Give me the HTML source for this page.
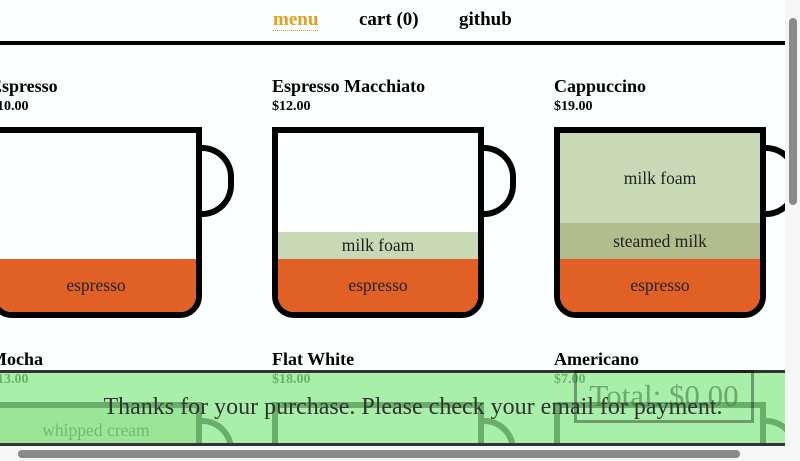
<!DOCTYPE html>
<html><head><meta charset="utf-8">
<style>
*{margin:0;padding:0;box-sizing:border-box}
html,body{width:800px;height:461px;overflow:hidden}
body{background:#fbfffe;font-family:"Liberation Serif",serif}
#wrap{position:relative;width:800px;height:461px;overflow:hidden}
.a{position:absolute}
.nav{font-weight:bold;font-size:19px;top:10px;color:#000}
.t{font-weight:bold;font-size:18px;color:#000}
.p{font-weight:bold;font-size:14px;color:#000}
.cup{position:absolute;width:212px;height:191px;border:6px solid #000;border-radius:0 0 22px 22px;overflow:hidden;background:#fbfffe}
.cup2{position:absolute;width:212px;height:59px;border:6px solid #000;border-bottom:none;overflow:hidden;background:#fbfffe}
.h{position:absolute;width:34px;height:72px;border:6px solid #000;border-left:none;border-radius:0 32px 32px 0}
.h2{position:absolute;width:34px;height:43px;border:6px solid #000;border-left:none;border-bottom:none;border-radius:0 32px 0 0}
.l{position:absolute;left:0;width:100%;display:flex;align-items:center;justify-content:center;font-size:17.5px;color:#222}
.esp{background:#e06026}.foam{background:#c7dab5}.steam{background:#b2bc8c}.cream{background:#c7dab5}
</style></head><body><div id="wrap">
<div class="a nav" style="left:273px;color:#e0a020;border-bottom:1px dotted #e0a020;line-height:20px">menu</div>
<div class="a nav" style="left:359px;line-height:20px">cart (0)</div>
<div class="a nav" style="left:459px;line-height:20px">github</div>
<div class="a" style="left:0;top:41px;width:785px;height:4px;background:#000"></div>

<div class="a t" style="left:-10px;top:76px">Espresso</div>
<div class="a p" style="left:-10px;top:99px">$10.00</div>
<div class="h" style="left:200px;top:145px"></div>
<div class="cup" style="left:-10px;top:127px">
<div class="l esp" style="top:126px;height:53px">espresso</div></div>

<div class="a t" style="left:272px;top:76px">Espresso Macchiato</div>
<div class="a p" style="left:272px;top:99px">$12.00</div>
<div class="h" style="left:482px;top:145px"></div>
<div class="cup" style="left:272px;top:127px">
<div class="l foam" style="top:99px;height:27px">milk foam</div>
<div class="l esp" style="top:126px;height:53px">espresso</div></div>

<div class="a t" style="left:554px;top:76px">Cappuccino</div>
<div class="a p" style="left:554px;top:99px">$19.00</div>
<div class="h" style="left:764px;top:145px"></div>
<div class="cup" style="left:554px;top:127px">
<div class="l foam" style="top:0;height:90px">milk foam</div>
<div class="l steam" style="top:90px;height:36px">steamed milk</div>
<div class="l esp" style="top:126px;height:53px">espresso</div></div>

<div class="a t" style="left:-10px;top:349px">Mocha</div>
<div class="a p" style="left:-10px;top:372px">$13.00</div>
<div class="h2" style="left:200px;top:418px"></div>
<div class="cup2" style="left:-10px;top:402px">
<div class="l cream" style="top:0;height:53px;align-items:flex-start;padding-top:12px">whipped cream</div></div>

<div class="a t" style="left:272px;top:349px">Flat White</div>
<div class="a p" style="left:272px;top:372px">$18.00</div>
<div class="h2" style="left:482px;top:418px"></div>
<div class="cup2" style="left:272px;top:402px"></div>

<div class="a t" style="left:554px;top:349px">Americano</div>
<div class="a p" style="left:554px;top:372px">$7.00</div>
<div class="h2" style="left:764px;top:418px"></div>
<div class="cup2" style="left:554px;top:402px"></div>

<div class="a" style="left:0;top:370px;width:785px;height:76px;background:rgba(140,234,140,0.75);border-top:3px solid #333;border-bottom:3px solid #333"></div>
<div class="a" style="left:574px;top:370px;width:180px;height:53px;border:3px solid rgba(0,0,0,0.35);font-size:31px;color:rgba(60,110,60,0.55);text-align:center;line-height:46px">Total: $0.00</div>
<div class="a" style="left:0;top:394px;width:826px;text-align:center;font-size:24px;color:#333;white-space:nowrap">Thanks for your purchase. Please check your email for payment.</div>

<div class="a" style="left:785px;top:0;width:15px;height:446px;background:#f6f6f6"><div style="position:absolute;left:4px;top:18px;width:8px;height:187px;border-radius:4px;background:#8a8a8a"></div></div>
<div class="a" style="left:0;top:446px;width:800px;height:15px;background:#f6f6f6"><div style="position:absolute;left:18px;top:4px;width:722px;height:8px;border-radius:4px;background:#8a8a8a"></div></div>
</div></body></html>
